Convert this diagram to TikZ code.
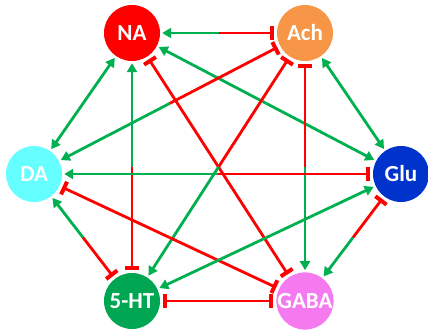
\documentclass[tikz,border=0pt]{standalone}
\usepackage{fontspec}
\usepackage{tikz}
\usetikzlibrary{arrows.meta,calc}
\newfontfamily\labfont{Carlito}
\definecolor{nared}{HTML}{FF0000}
\definecolor{achorange}{HTML}{F79646}
\definecolor{dacyan}{HTML}{66FFFF}
\definecolor{glublue}{HTML}{0033CC}
\definecolor{htgreen}{HTML}{00A651}
\definecolor{gabapink}{HTML}{F57AF0}
\definecolor{actgreen}{HTML}{00B050}
\definecolor{inhred}{HTML}{FF0000}

\begin{document}
\begin{tikzpicture}
  [x=1pt,y=-1pt,
   every node/.style={shape=circle,minimum size=56pt,inner sep=0pt,text=white,
     font=\labfont\bfseries\fontsize{23}{23}\selectfont},
   act/.style={draw=actgreen,line width=2.8pt,shorten >=2pt,
     -{Triangle[width=10pt,length=9pt]}},
   inh/.style={draw=inhred,line width=2.8pt,shorten >=3pt,
     -{Bar[width=14pt,line width=4pt]}}]
\useasboundingbox (0,0) rectangle (428,331);
\node [fill=nared]      (NA)   at (132,33)  {NA};
\node [fill=achorange]  (Ach)  at (305,33)  {Ach};
\node [fill=dacyan]     (DA)   at (34,174)  {DA};
\node [fill=glublue]    (Glu)  at (401,174) {Glu};
\node [fill=htgreen]    (5HT)  at (132,301) {5-HT};
\node [fill=gabapink]   (GABA) at (305,301) {GABA};

\foreach \a/\b/\sa/\sb in {NA/Ach/act/inh, NA/DA/act/act, NA/5HT/act/inh,
    NA/GABA/inh/inh, NA/Glu/act/act, Ach/DA/inh/act, Ach/5HT/inh/act,
    Ach/GABA/inh/act, Ach/Glu/act/act, DA/Glu/act/inh, DA/GABA/inh/inh,
    DA/5HT/act/inh, 5HT/Glu/act/act, 5HT/GABA/inh/inh, Glu/GABA/inh/act} {
  \coordinate (m) at ($(\a)!0.5!(\b)$) ;
  \draw [\sa] (m) -- (\a) ;
  \draw [\sb] (m) -- (\b) ;
}
\end{tikzpicture}
\end{document}
